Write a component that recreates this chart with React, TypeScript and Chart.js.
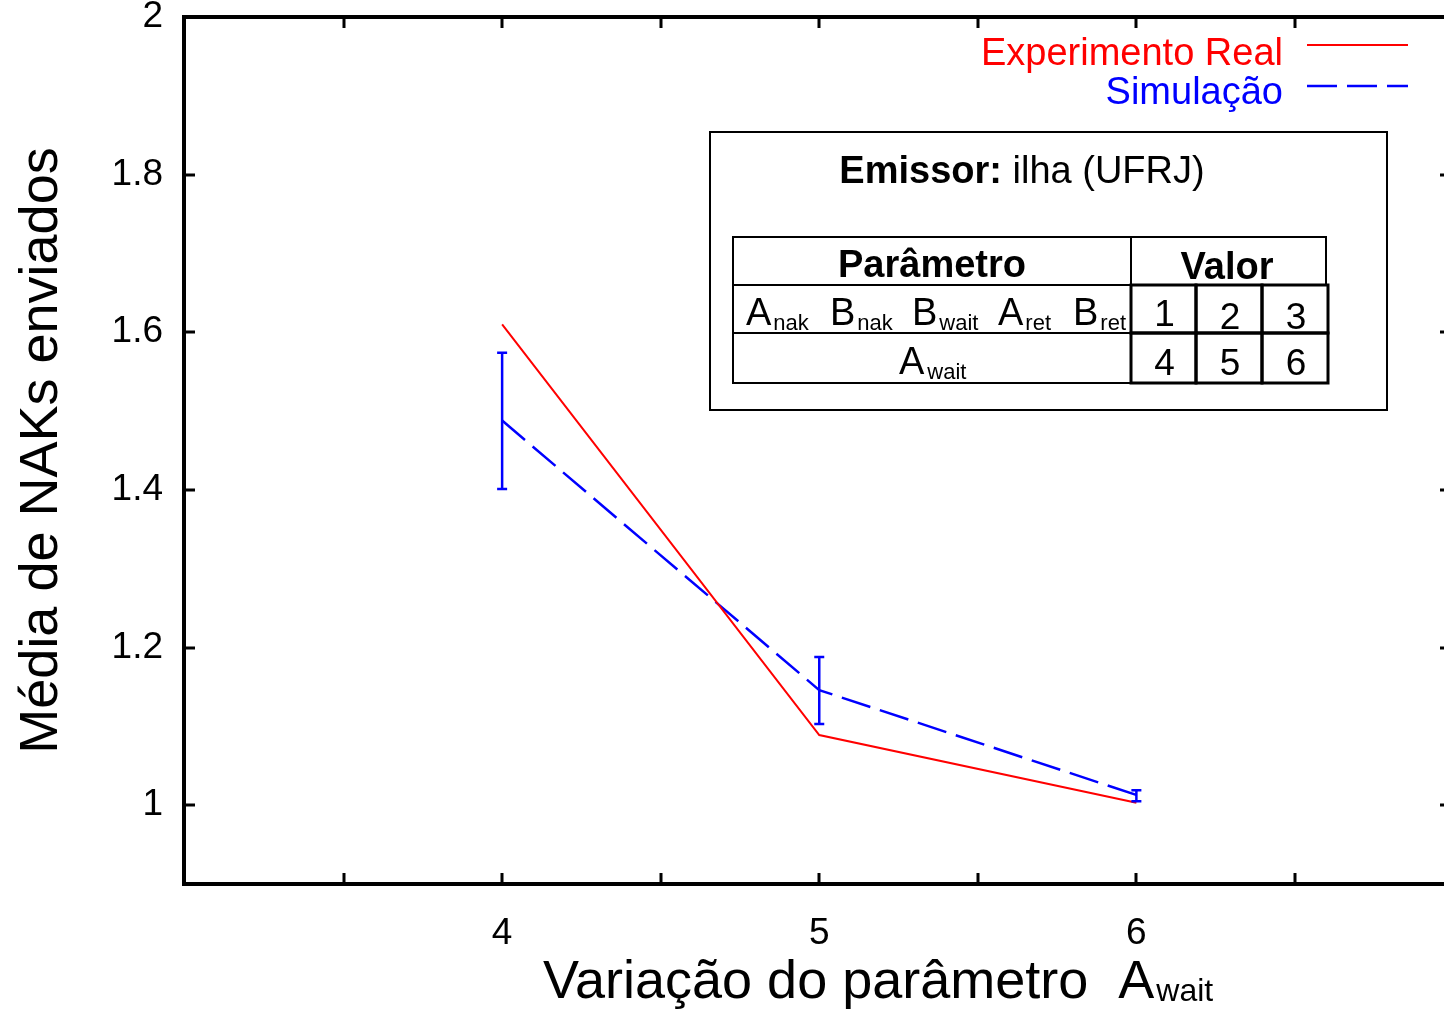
import React, { useEffect, useRef } from "react";
import { Chart, registerables } from "chart.js";

Chart.register(...registerables);

// ---- data ----
const X_VALUES = [4, 5, 6];
const REAL_VALUES = [1.61, 1.089, 1.003];
const SIM_VALUES = [1.488, 1.146, 1.013];
const SIM_LOW = [1.401, 1.103, 1.005];
const SIM_HIGH = [1.574, 1.188, 1.019];
const X_TICKS = [3.5, 4, 4.5, 5, 5.5, 6, 6.5];
const X_LABELED = [4, 5, 6];
const Y_TICKS = [1, 1.2, 1.4, 1.6, 1.8, 2];
const SERIES_NAMES = ["Experimento Real", "Simulação"];
const Y_TITLE = "Média de NAKs enviados";
const X_TITLE_MAIN = "Variação do parâmetro  A";
const X_TITLE_SUB = "wait";
const INSET_TITLE_BOLD = "Emissor:";
const INSET_TITLE_REST = " ilha (UFRJ)";
const INSET_HEAD = ["Parâmetro", "Valor"];
const INSET_PARAMS: [string, string][] = [["A", "nak"], ["B", "nak"], ["B", "wait"], ["A", "ret"], ["B", "ret"]];
const INSET_PARAM2: [string, string] = ["A", "wait"];
const INSET_ROW1 = ["1", "2", "3"];
const INSET_ROW2 = ["4", "5", "6"];

const FONT = "'Liberation Sans', Arial, Helvetica, sans-serif";
const RED = "#ff0000";
const BLUE = "#0000ff";

const f = (size: number, bold = false) => `${bold ? "bold " : ""}${size}px ${FONT}`;

const decorPlugin = {
  id: "decor",
  afterDatasetsDraw(chart: any) {
    const ctx: CanvasRenderingContext2D = chart.ctx;
    const { left, right, top, bottom } = chart.chartArea;
    const xs = chart.scales.x;
    const ys = chart.scales.y;
    ctx.save();

    // error bars
    ctx.strokeStyle = BLUE;
    ctx.lineWidth = 2.5;
    X_VALUES.forEach((xv, i) => {
      const px = xs.getPixelForValue(xv);
      const pl = ys.getPixelForValue(SIM_LOW[i]);
      const ph = ys.getPixelForValue(SIM_HIGH[i]);
      ctx.beginPath();
      ctx.moveTo(px, pl);
      ctx.lineTo(px, ph);
      ctx.moveTo(px - 5, pl);
      ctx.lineTo(px + 5, pl);
      ctx.moveTo(px - 5, ph);
      ctx.lineTo(px + 5, ph);
      ctx.stroke();
    });

    // frame
    ctx.strokeStyle = "#000";
    ctx.lineWidth = 4;
    ctx.lineJoin = "miter";
    ctx.beginPath();
    ctx.moveTo(right + 2, top);
    ctx.lineTo(left - 1, top);
    ctx.lineTo(left - 1, bottom);
    ctx.lineTo(right + 2, bottom);
    ctx.stroke();

    // tick marks
    ctx.lineWidth = 3;
    ctx.beginPath();
    X_TICKS.forEach((v) => {
      const px = Math.round(xs.getPixelForValue(v));
      ctx.moveTo(px, bottom);
      ctx.lineTo(px, bottom - 11);
      ctx.moveTo(px, top);
      ctx.lineTo(px, top + 11);
    });
    Y_TICKS.forEach((v) => {
      const py = Math.round(ys.getPixelForValue(v));
      ctx.moveTo(left, py);
      ctx.lineTo(left + 10, py);
      ctx.moveTo(right - 4, py);
      ctx.lineTo(right, py);
    });
    ctx.stroke();

    // legend
    ctx.textAlign = "right";
    ctx.textBaseline = "alphabetic";
    ctx.font = f(38);
    ctx.fillStyle = RED;
    ctx.fillText(SERIES_NAMES[0], 1283, 65);
    ctx.fillStyle = BLUE;
    ctx.fillText(SERIES_NAMES[1], 1283, 104);
    ctx.lineWidth = 2;
    ctx.strokeStyle = RED;
    ctx.beginPath();
    ctx.moveTo(1307, 45);
    ctx.lineTo(1408, 45);
    ctx.stroke();
    ctx.strokeStyle = BLUE;
    ctx.lineWidth = 2.5;
    ctx.setLineDash([30, 10]);
    ctx.beginPath();
    ctx.moveTo(1307, 86);
    ctx.lineTo(1408, 86);
    ctx.stroke();
    ctx.setLineDash([]);

    // x title
    ctx.fillStyle = "#000";
    ctx.textAlign = "left";
    ctx.font = f(54);
    const mw = ctx.measureText(X_TITLE_MAIN).width;
    const x0 = 543;
    ctx.fillText(X_TITLE_MAIN, x0, 998);
    ctx.font = f(32);
    ctx.fillText(X_TITLE_SUB, x0 + mw + 2, 1001);

    // inset box
    ctx.strokeStyle = "#000";
    ctx.lineWidth = 2;
    ctx.strokeRect(710, 132, 677, 278);
    ctx.font = f(38, true);
    const bw = ctx.measureText(INSET_TITLE_BOLD).width;
    ctx.font = f(38);
    const rw = ctx.measureText(INSET_TITLE_REST).width;
    const tx = 1022 - (bw + rw) / 2;
    ctx.font = f(38, true);
    ctx.fillText(INSET_TITLE_BOLD, tx, 183);
    ctx.font = f(38);
    ctx.fillText(INSET_TITLE_REST, tx + bw, 183);

    // table header
    ctx.strokeRect(733, 237, 593, 48);
    ctx.beginPath();
    ctx.moveTo(1131, 237);
    ctx.lineTo(1131, 285);
    ctx.stroke();
    ctx.textAlign = "center";
    ctx.font = f(38, true);
    ctx.fillText(INSET_HEAD[0], 932, 277);
    ctx.fillText(INSET_HEAD[1], 1227, 279);

    // left rows
    ctx.strokeRect(733, 285, 398, 48);
    ctx.strokeRect(733, 333, 398, 50);

    // value cells
    ctx.lineWidth = 3;
    const cols = [1131, 1196, 1262, 1328];
    const rows = [285, 333, 383];
    for (let r = 0; r < 2; r++) {
      for (let c = 0; c < 3; c++) {
        ctx.strokeRect(cols[c], rows[r], cols[c + 1] - cols[c], rows[r + 1] - rows[r]);
      }
    }
    ctx.font = f(37);
    for (let c = 0; c < 3; c++) {
      const cx = (cols[c] + cols[c + 1]) / 2 + 1;
      ctx.fillText(INSET_ROW1[c], cx, c === 0 ? 326 : 329);
      ctx.fillText(INSET_ROW2[c], cx, 375);
    }

    // parameter symbols
    ctx.textAlign = "left";
    const px = [746, 830, 912, 998, 1073];
    INSET_PARAMS.forEach(([m, s], i) => {
      ctx.font = f(38);
      const w = ctx.measureText(m).width;
      ctx.fillText(m, px[i], 325);
      ctx.font = f(22);
      ctx.fillText(s, px[i] + w + 2, 330);
    });
    ctx.font = f(38);
    const w2 = ctx.measureText(INSET_PARAM2[0]).width;
    ctx.fillText(INSET_PARAM2[0], 899, 374);
    ctx.font = f(22);
    ctx.fillText(INSET_PARAM2[1], 899 + w2 + 3, 379);

    ctx.restore();
  },
};

export default function App() {
  const ref = useRef<HTMLCanvasElement>(null);

  useEffect(() => {
    if (!ref.current) return;
    Chart.defaults.font.family = FONT;
    const chart = new Chart(ref.current, {
      type: "line",
      data: {
        datasets: [
          {
            label: SERIES_NAMES[0],
            data: X_VALUES.map((x, i) => ({ x, y: REAL_VALUES[i] })),
            borderColor: RED,
            borderWidth: 2,
            pointRadius: 0,
            tension: 0,
            fill: false,
          },
          {
            label: SERIES_NAMES[1],
            data: X_VALUES.map((x, i) => ({ x, y: SIM_VALUES[i] })),
            borderColor: BLUE,
            borderWidth: 2.5,
            borderDash: [30, 10],
            pointRadius: 0,
            tension: 0,
            fill: false,
          },
        ],
      },
      options: {
        responsive: false,
        animation: false,
        layout: { padding: { top: 17, right: 0, left: 0, bottom: 0 } },
        plugins: { legend: { display: false }, tooltip: { enabled: false } },
        scales: {
          x: {
            type: "linear",
            min: 3,
            max: 6.97,
            grid: { display: false, drawTicks: false },
            border: { display: false },
            afterBuildTicks: (s: any) => {
              s.ticks = X_TICKS.map((v) => ({ value: v }));
            },
            afterFit: (s: any) => {
              s.height = 126;
              s.paddingLeft = 0;
              s.paddingRight = 0;
            },
            ticks: {
              autoSkip: false,
              maxRotation: 0,
              padding: 28,
              color: "#000",
              font: { size: 37 },
              callback: (v: any) => (X_LABELED.includes(Number(v)) ? String(v) : ""),
            },
          },
          y: {
            type: "linear",
            min: 0.9,
            max: 2,
            grid: { display: false, drawTicks: false },
            border: { display: false },
            afterBuildTicks: (s: any) => {
              s.ticks = Y_TICKS.map((v) => ({ value: v }));
            },
            afterFit: (s: any) => {
              s.width = 185;
              s.paddingTop = 0;
              s.paddingBottom = 0;
            },
            ticks: {
              padding: 22,
              color: "#000",
              font: { size: 37 },
              callback: (v: any) => String(v),
            },
            title: {
              display: true,
              text: Y_TITLE,
              color: "#000",
              font: { size: 54 },
              padding: { top: 10, bottom: 0 },
            },
          },
        },
      },
      plugins: [decorPlugin],
    } as any);
    return () => chart.destroy();
  }, []);

  return (
    <div style={{ position: "fixed", left: 0, top: 0, width: 1444, height: 1010, background: "#fff" }}>
      <canvas ref={ref} width={1444} height={1010} style={{ display: "block" }} />
    </div>
  );
}
